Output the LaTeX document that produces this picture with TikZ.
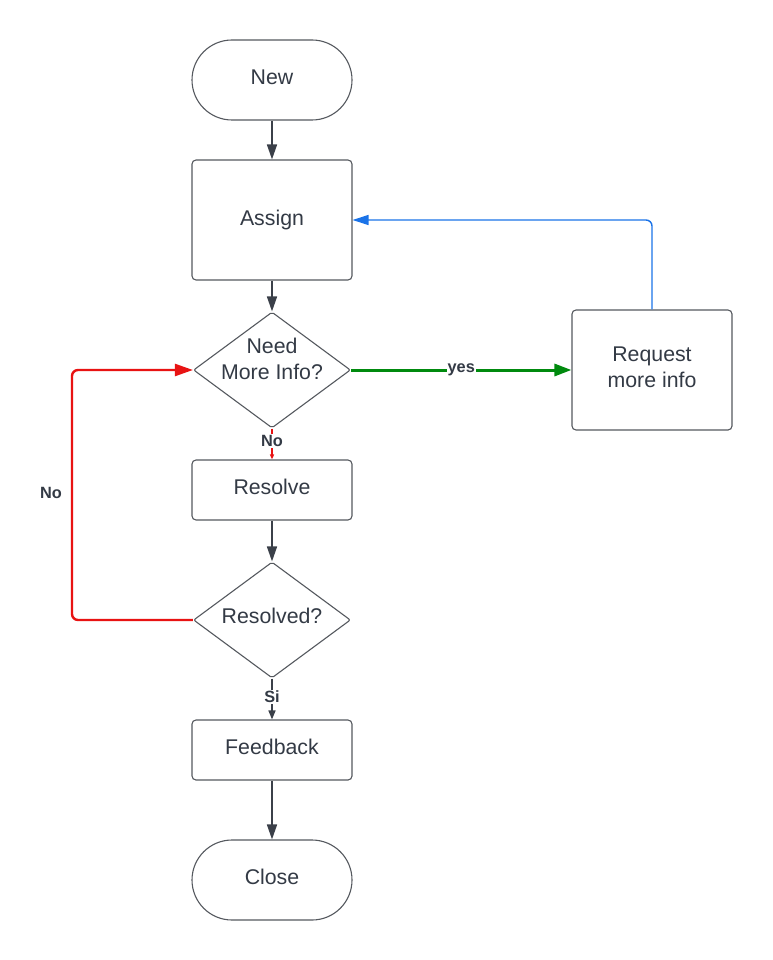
\documentclass[tikz,border=0pt]{standalone}
\usepackage{fontspec}
\setmainfont{Liberation Sans}
\usetikzlibrary{shapes.geometric,arrows.meta}
\definecolor{ink}{HTML}{333A45}
\definecolor{edge}{HTML}{55595F}
\definecolor{flow}{HTML}{3B4049}
\definecolor{yesgreen}{HTML}{008A0E}
\definecolor{nored}{HTML}{E81313}
\definecolor{backblue}{HTML}{1A73E8}
% centred text lines whose last baseline sits #1 below the node centre
\newcommand\txt[2]{\raisebox{-#1}[0pt][0pt]{\begin{tabular}[b]{@{}c@{}}#2\end{tabular}}}
\begin{document}
\begin{tikzpicture}[x=1pt,y=-1pt,
  font=\fontsize{21.3}{26}\selectfont, text=ink,
  box/.style={draw=edge, line width=1.1pt, rounded corners=4pt, fill=white,
    minimum width=160pt, inner sep=0pt},
  term/.style={box, rounded corners=40pt, minimum height=80pt},
  decision/.style={diamond, shape aspect=1.35, draw=edge, line width=1.1pt,
    rounded corners=2pt, fill=white, inner sep=0pt,
    minimum width=157pt, minimum height=116pt},
  link/.style={draw=flow, line width=1.6pt, -{Triangle[length=15pt,width=10pt]}},
  tag/.style={font=\fontsize{16.3}{18}\selectfont\bfseries, text=ink, fill=white, inner sep=1pt}
]
\useasboundingbox (0,0) rectangle (772,960);

% nodes
\node[term] (new) at (272,80) {\txt{4.5pt}{New}};
\node[box, minimum height=120pt] (assign) at (272,220) {\txt{5.5pt}{Assign}};
\node[decision] (need) at (272,370) {\txt{9.3pt}{Need\\More Info?}};
\node[box, minimum height=120pt] (request) at (652,370) {\txt{17.5pt}{Request\\more info}};
\node[box, minimum height=60pt] (resolve) at (272,490) {\txt{4.5pt}{Resolve}};
\node[decision] (resolved) at (272,620) {\txt{3.8pt}{Resolved?}};
\node[box, minimum height=60pt] (feedback) at (272,750) {\txt{4.5pt}{Feedback}};
\node[term] (close) at (272,880) {\txt{4.5pt}{Close}};

\coordinate (loopl) at (72,0);
\coordinate (loopup) at (652,220);

% main flow
\draw[link] (new) -- (assign);
\draw[link] (assign) -- (need);
\draw[link] (resolve) -- (resolved);
\draw[link] (feedback) -- (close);

% decision branches
\draw[draw=yesgreen, line width=3pt, -{Triangle[length=17pt,width=12pt]}]
  (need.east) -- node[tag] {yes} (request.west);
\draw[draw=nored, line width=2pt, -{Triangle[length=5pt,width=4pt]}]
  (need.south) -- node[tag, pos=0.4] {No} (resolve.north);
\draw[draw=nored, line width=2.4pt, rounded corners=6pt, -{Triangle[length=18pt,width=12pt]}]
  (resolved.west) -- (resolved.west -| loopl)
  -- node[tag, left=8pt, yshift=2.5pt, fill=none] {No} (need.west -| loopl)
  -- (need.west);
\draw[draw=flow, line width=1.6pt, -{Triangle[length=9pt,width=7pt]}]
  (resolved.south) -- node[tag, pos=0.45] {Si} (feedback.north);

% return from the request box
\draw[draw=backblue, line width=1.4pt, rounded corners=6pt, -{Triangle[length=16pt,width=10pt]}]
  (request.north) -- (loopup) -- (assign.east |- loopup);
\end{tikzpicture}
\end{document}
